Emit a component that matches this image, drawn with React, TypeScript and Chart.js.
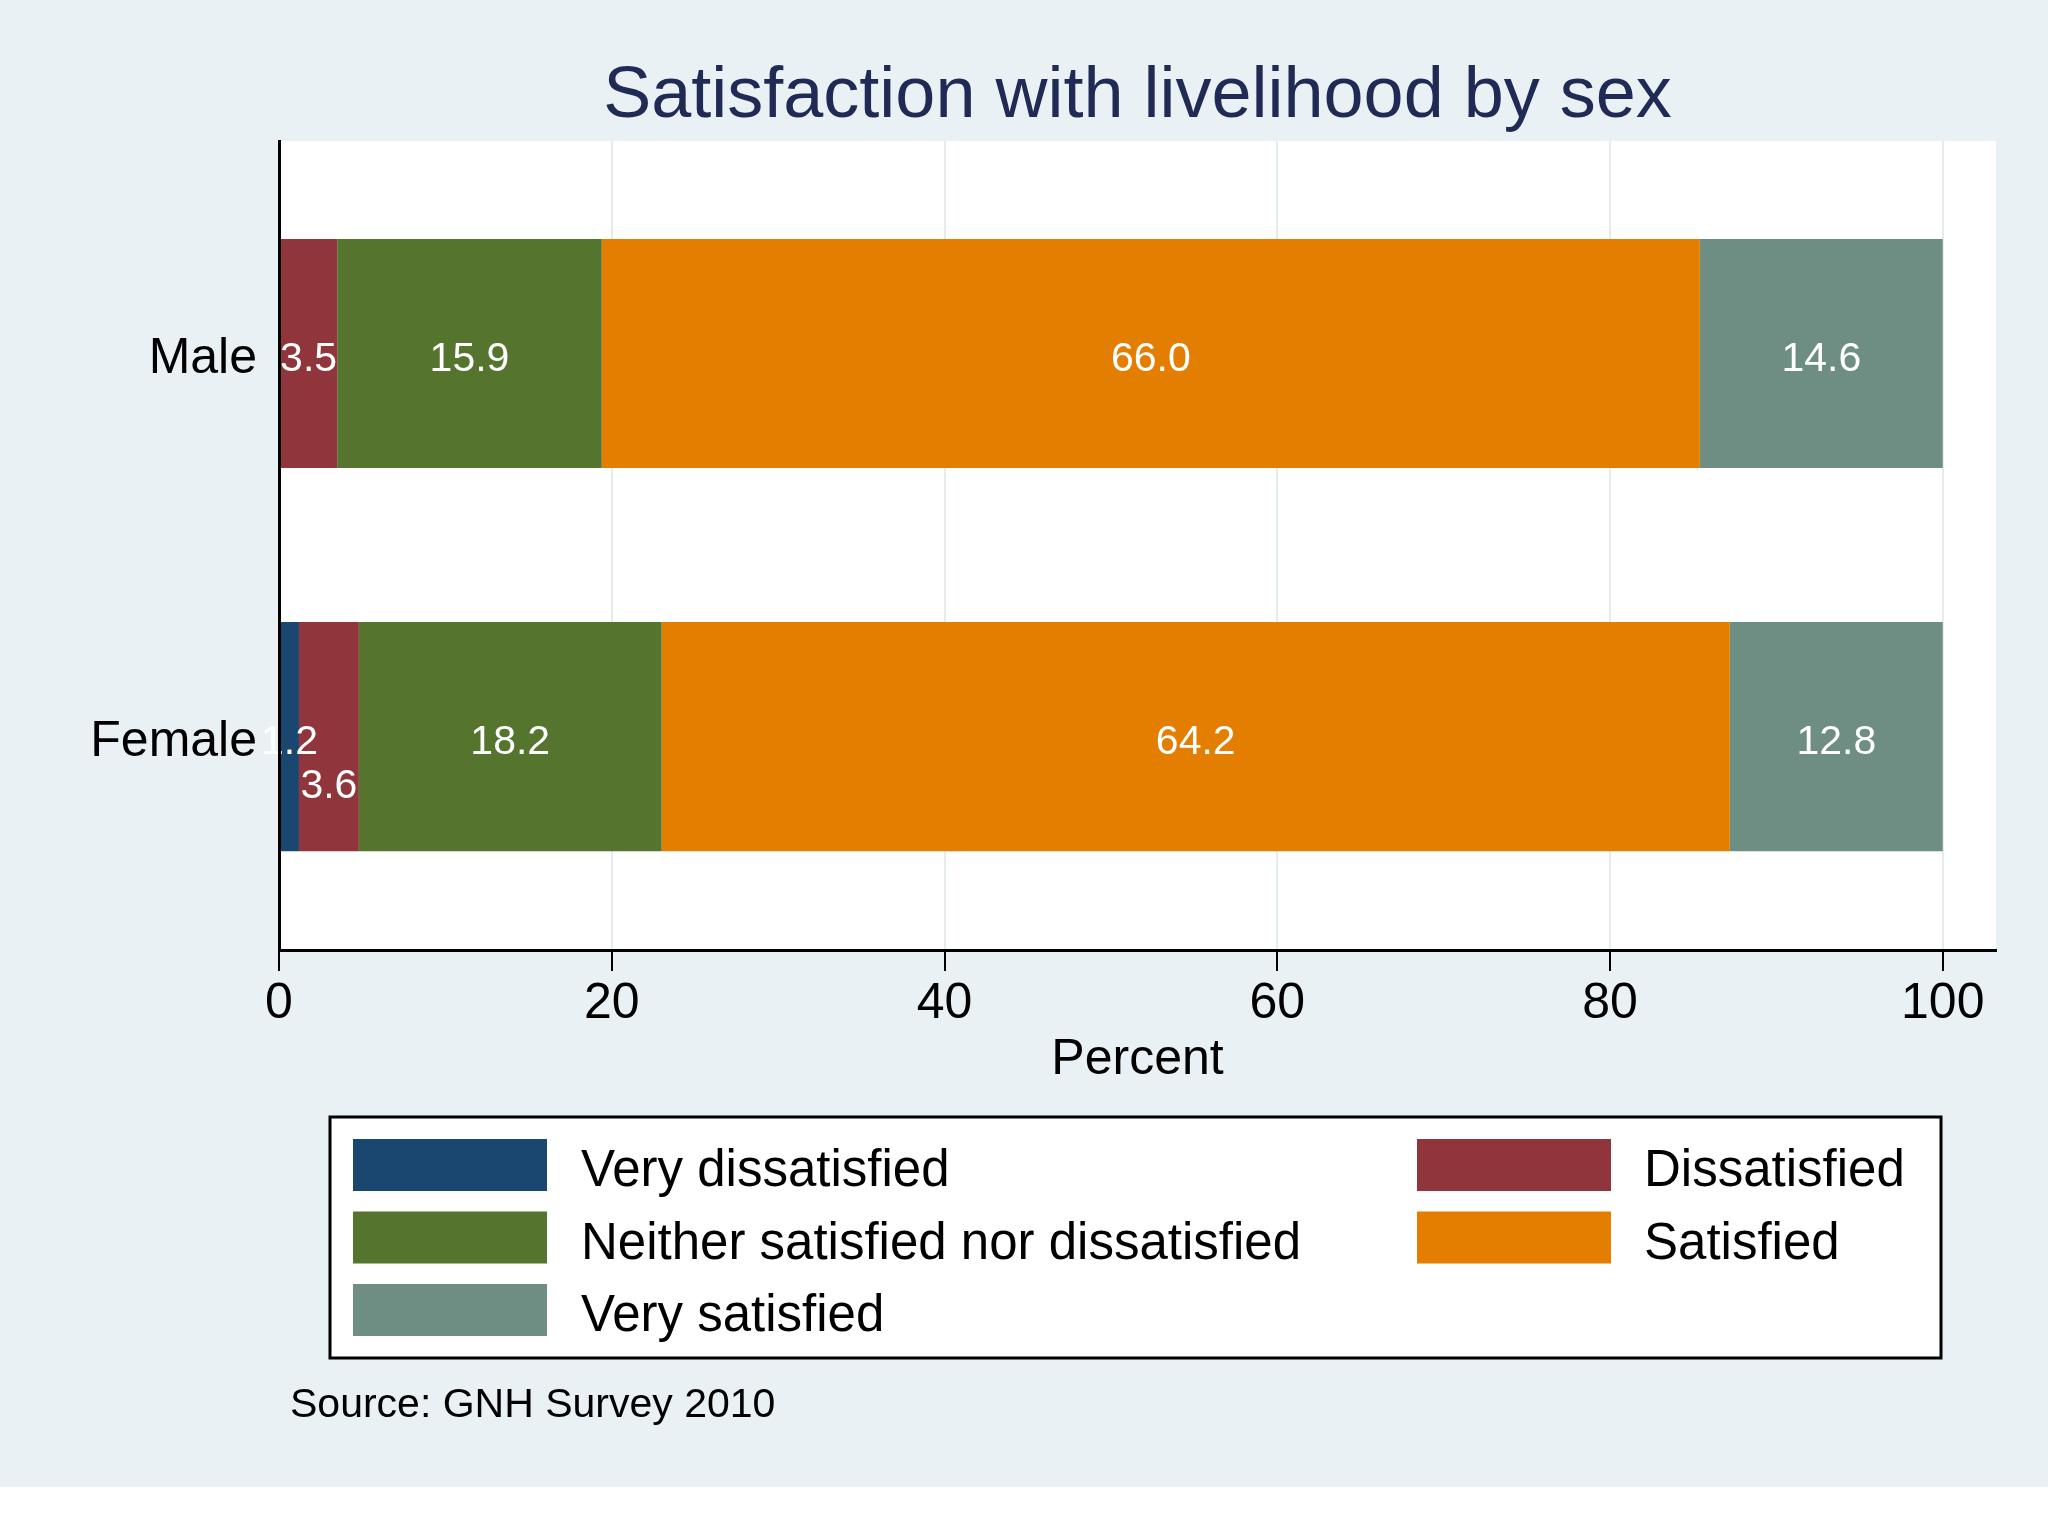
import React, { useEffect, useRef } from 'react';
import { Chart, registerables } from 'chart.js';

Chart.register(...registerables);

// ---------------- data ----------------
const CATEGORIES = ['Male', 'Female'];
const SERIES_LABELS = [
  'Very dissatisfied',
  'Dissatisfied',
  'Neither satisfied nor dissatisfied',
  'Satisfied',
  'Very satisfied',
];
const VERY_DISSATISFIED = [0, 1.2];
const DISSATISFIED = [3.5, 3.6];
const NEITHER = [15.9, 18.2];
const SATISFIED = [66.0, 64.2];
const VERY_SATISFIED = [14.6, 12.8];
const SERIES_COLORS = ['#1A476F', '#90353B', '#55752F', '#E37E00', '#6E8E84'];
const X_TICKS = [0, 20, 40, 60, 80, 100];
const TITLE = 'Satisfaction with livelihood by sex';
const X_TITLE = 'Percent';
const SOURCE = 'Source: GNH Survey 2010';

const FONT = "'Liberation Sans', Arial, Helvetica, sans-serif";
const BG = '#EAF1F5';

const backgroundPlugin = {
  id: 'stataBackground',
  beforeDraw(chart: any) {
    const { ctx, chartArea: a } = chart;
    ctx.save();
    ctx.fillStyle = '#FFFFFF';
    ctx.fillRect(0, 0, chart.width, chart.height);
    ctx.fillStyle = BG;
    ctx.fillRect(0, 0, chart.width, 1487);
    ctx.fillStyle = '#FFFFFF';
    ctx.fillRect(a.left, a.top, a.right - a.left, a.bottom - a.top);
    ctx.restore();
  },
};

const valueLabelPlugin = {
  id: 'valueLabels',
  afterDatasetsDraw(chart: any) {
    const { ctx } = chart;
    ctx.save();
    ctx.font = `41px ${FONT}`;
    ctx.fillStyle = '#FFFFFF';
    ctx.textAlign = 'center';
    ctx.textBaseline = 'middle';
    const lastRight: Record<number, number> = {};
    chart.data.datasets.forEach((ds: any, di: number) => {
      const meta = chart.getDatasetMeta(di);
      meta.data.forEach((el: any, i: number) => {
        const v = ds.data[i].x;
        if (!v) return;
        const text = v.toFixed(1);
        const w = ctx.measureText(text).width;
        const cx = (el.x + el.base) / 2;
        let cy = el.y + 6.5;
        if (lastRight[i] !== undefined && cx - w / 2 < lastRight[i]) cy += 44;
        ctx.fillText(text, cx, cy);
        lastRight[i] = cx + w / 2;
      });
    });
    ctx.restore();
  },
};

const legendPlugin = {
  id: 'boxLegend',
  afterDraw(chart: any) {
    const { ctx } = chart;
    const box = { left: 330, top: 1117, right: 1941, bottom: 1358 };
    ctx.save();
    ctx.fillStyle = '#FFFFFF';
    ctx.fillRect(box.left, box.top, box.right - box.left, box.bottom - box.top);
    ctx.lineWidth = 3;
    ctx.strokeStyle = '#000000';
    ctx.strokeRect(box.left, box.top, box.right - box.left, box.bottom - box.top);
    const colSwatch = [353, 1417];
    const colText = [581, 1644];
    const rowTop = [1139, 1211.5, 1284];
    ctx.font = `51px ${FONT}`;
    ctx.textAlign = 'left';
    ctx.textBaseline = 'alphabetic';
    chart.data.datasets.forEach((ds: any, i: number) => {
      const col = i % 2;
      const row = Math.floor(i / 2);
      ctx.fillStyle = ds.backgroundColor;
      ctx.fillRect(colSwatch[col], rowTop[row], 194, 52);
      ctx.fillStyle = '#000000';
      ctx.fillText(ds.label, colText[col], rowTop[row] + 47);
    });
    ctx.font = `41px ${FONT}`;
    ctx.fillStyle = '#000000';
    ctx.fillText(SOURCE, 290, 1417);
    ctx.restore();
  },
};

export default function App() {
  const canvasRef = useRef<HTMLCanvasElement | null>(null);

  useEffect(() => {
    if (!canvasRef.current) return;
    Chart.defaults.font.family = FONT;
    Chart.defaults.color = '#000000';
    const series = [VERY_DISSATISFIED, DISSATISFIED, NEITHER, SATISFIED, VERY_SATISFIED];
    const chart = new Chart(canvasRef.current, {
      type: 'bar',
      data: {
        datasets: series.map((vals, s) => ({
          label: SERIES_LABELS[s],
          data: vals.map((v, i) => ({ x: v, y: i })),
          backgroundColor: SERIES_COLORS[s],
          borderWidth: 0,
          barPercentage: 0.598,
          categoryPercentage: 1,
        })),
      },
      options: {
        indexAxis: 'y',
        responsive: false,
        animation: false,
        devicePixelRatio: 1,
        layout: { padding: { top: 0, left: 0, right: 52, bottom: 430 } },
        plugins: {
          legend: { display: false },
          tooltip: { enabled: false },
          title: {
            display: true,
            text: TITLE,
            color: '#1F2B55',
            fullSize: false,
            font: { size: 72, weight: 'normal', family: FONT },
            padding: { top: 54, bottom: 0.6 },
          },
        },
        scales: {
          x: {
            type: 'linear',
            stacked: true,
            min: 0,
            max: 103.2,
            afterBuildTicks: (s: any) => {
              s.ticks = X_TICKS.map((v) => ({ value: v }));
            },
            afterFit: (s: any) => {
              s.height = 156;
            },
            grid: {
              color: '#E4ECEF',
              lineWidth: 2,
              drawTicks: true,
              tickLength: 21,
              tickColor: '#000000',
              tickWidth: 2,
            },
            border: { color: '#000000', width: 3, z: 1 },
            ticks: {
              color: '#000000',
              font: { size: 50 },
              padding: 3,
              maxRotation: 0,
              autoSkip: false,
            },
            title: {
              display: true,
              text: X_TITLE,
              color: '#000000',
              font: { size: 50 },
              padding: { top: 0, bottom: 16 },
            },
          },
          y: {
            type: 'linear',
            stacked: true,
            reverse: true,
            offset: false,
            min: -0.555,
            max: 1.557,
            afterBuildTicks: (s: any) => {
              s.ticks = CATEGORIES.map((_, i) => ({ value: i }));
            },
            afterFit: (s: any) => {
              s.width = 279;
            },
            grid: { display: true, offset: false, drawOnChartArea: false, drawTicks: false, color: 'rgba(0,0,0,0)' },
            border: { color: '#000000', width: 3, z: 1 },
            ticks: {
              color: '#000000',
              font: { size: 50 },
              padding: 22,
              labelOffset: 6,
              z: 1,
              callback: (v: any) => CATEGORIES[v] ?? '',
            },
          },
        },
      },
      plugins: [backgroundPlugin, valueLabelPlugin, legendPlugin],
    } as any);
    return () => chart.destroy();
  }, []);

  return (
    <div style={{ position: 'absolute', left: 0, top: 0, width: 2048, height: 1536 }}>
      <canvas ref={canvasRef} width={2048} height={1536} style={{ display: 'block' }} />
    </div>
  );
}
